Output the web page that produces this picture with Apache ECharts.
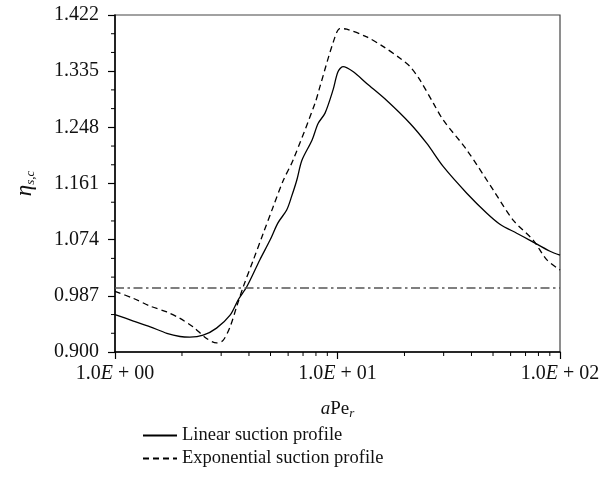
<!DOCTYPE html>
<html><head><meta charset="utf-8">
<script src="https://cdn.jsdelivr.net/npm/echarts@6/dist/echarts.min.js"></script>
<style>html,body{margin:0;padding:0;background:#fff}#c{width:615px;height:487px}</style>
</head><body><div id="c"></div>
<script>
const seriesNames = ['Linear suction profile', 'Exponential suction profile'];
const linearX = [1.00, 1.21, 1.44, 1.71, 1.96, 2.17, 2.49, 2.86, 3.29, 3.58, 3.91, 4.48, 4.97, 5.40, 5.91, 6.22, 6.56, 6.92, 7.68, 8.18, 8.79, 9.55, 10.05, 10.58, 11.78, 13.53, 16.6, 21.2, 25.2, 29.9, 38.1, 46.9, 53.7, 63.9, 73.3, 90.2, 100];
const linearY = [0.958, 0.948, 0.939, 0.929, 0.924, 0.923, 0.926, 0.937, 0.957, 0.981, 1.001, 1.043, 1.073, 1.100, 1.120, 1.141, 1.166, 1.197, 1.228, 1.254, 1.270, 1.306, 1.334, 1.342, 1.334, 1.316, 1.290, 1.254, 1.223, 1.187, 1.146, 1.115, 1.098, 1.084, 1.073, 1.056, 1.050];
const expX = [1.00, 1.21, 1.44, 1.71, 1.96, 2.24, 2.58, 2.86, 3.06, 3.29, 3.52, 3.77, 4.19, 4.64, 5.14, 5.71, 6.31, 7.92, 8.34, 9.55, 10.26, 11.0, 13.53, 16.07, 19.1, 21.2, 23.5, 27.0, 29.9, 38.1, 50.1, 61.7, 75.9, 87.1, 100];
const expY = [0.994, 0.983, 0.971, 0.962, 0.952, 0.939, 0.921, 0.914, 0.918, 0.939, 0.970, 1.001, 1.043, 1.084, 1.125, 1.166, 1.197, 1.285, 1.311, 1.379, 1.401, 1.400, 1.388, 1.373, 1.355, 1.342, 1.321, 1.285, 1.259, 1.213, 1.151, 1.104, 1.073, 1.043, 1.027];
const refLevel = 1.0;
const yTicks = [0.900, 0.987, 1.074, 1.161, 1.248, 1.335, 1.422];
const yMinorTicks = [0.929, 0.958, 1.016, 1.045, 1.103, 1.132, 1.190, 1.219, 1.277, 1.306, 1.364, 1.393];
const xMinorTicks = [2, 3, 4, 5, 6, 7, 8, 9, 20, 30, 40, 50, 60, 70, 80, 90];
const X_MIN = 1, X_MAX = 100, Y_MIN = 0.900, Y_MAX = 1.422;

const FONT = 'Liberation Serif';
const zip = (xs, ys) => xs.map((x, i) => [x, ys[i]]);

const chart = echarts.init(document.getElementById('c'), null, {renderer: 'canvas'});
chart.setOption({
  animation: false,
  backgroundColor: '#fff',
  grid: {left: 115, top: 15, right: 55, bottom: 135, show: true, borderColor: '#444', borderWidth: 1.2, containLabel: false},
  legend: {
    data: seriesNames, orient: 'vertical', left: 137, top: 421, itemWidth: 34, itemHeight: 10, itemGap: 4,
    itemStyle: {opacity: 0},
    textStyle: {fontFamily: FONT, fontSize: 18.5, color: '#111'}
  },
  xAxis: {
    type: 'log', logBase: 10, min: X_MIN, max: X_MAX,
    axisLine: {show: true, lineStyle: {color: '#000', width: 1.5}},
    axisTick: {show: true, inside: false, length: 7, lineStyle: {color: '#000', width: 1.2}},
    minorTick: {show: false},
    splitLine: {show: false},
    axisLabel: {
      margin: 12, color: '#111', fontFamily: FONT, fontSize: 20,
      formatter: v => {
        const e = Math.round(Math.log10(v));
        return '{n|1.0}{e|E}{n| + ' + String(e).padStart(2, '0') + '}';
      },
      rich: {n: {fontFamily: FONT, fontSize: 20, color: '#111'}, e: {fontFamily: FONT, fontSize: 20, fontStyle: 'italic', color: '#111'}}
    },
    name: '{a|a}{p|Pe}{r|r}', nameLocation: 'middle', nameGap: 46,
    nameTextStyle: {
      rich: {
        a: {fontFamily: FONT, fontSize: 19, fontStyle: 'italic', color: '#111', lineHeight: 22},
        p: {fontFamily: FONT, fontSize: 19, color: '#111', lineHeight: 22},
        r: {fontFamily: FONT, fontSize: 13, fontStyle: 'italic', color: '#111', lineHeight: 13, verticalAlign: 'bottom'}
      }
    }
  },
  yAxis: {
    type: 'value', min: Y_MIN, max: Y_MAX,
    axisLine: {show: true, lineStyle: {color: '#000', width: 1.5}},
    axisTick: {show: true, inside: false, length: 7, customValues: yTicks, lineStyle: {color: '#000', width: 1.2}},
    splitLine: {show: false},
    axisLabel: {
      margin: 16, color: '#111', fontFamily: FONT, fontSize: 20, customValues: yTicks,
      formatter: v => v.toFixed(3)
    },
    name: '{i|η}{s|s,c}', nameLocation: 'middle', nameRotate: 90, nameGap: 78,
    nameTextStyle: {
      rich: {
        i: {fontFamily: FONT, fontSize: 23, fontStyle: 'italic', color: '#111', lineHeight: 24},
        s: {fontFamily: FONT, fontSize: 13, fontStyle: 'italic', color: '#111', lineHeight: 13, verticalAlign: 'bottom'}
      }
    }
  },
  series: [
    {
      name: seriesNames[0], type: 'line', data: zip(linearX, linearY), smooth: 0.3,
      showSymbol: false, symbol: 'none', lineStyle: {color: '#000', width: 1.3, type: 'solid'}, itemStyle: {color: '#000'},
      markLine: {
        silent: true, symbol: 'none', label: {show: false},
        lineStyle: {color: '#555', width: 1.6, type: [9, 3.5, 2.5, 3.5]},
        data: [{yAxis: refLevel}]
      }
    },
    {
      name: seriesNames[1], type: 'line', data: zip(expX, expY), smooth: 0.3,
      showSymbol: false, symbol: 'none', lineStyle: {color: '#000', width: 1.3, type: [6, 4]}, itemStyle: {color: '#000'}
    },
    {
      type: 'custom', silent: true, clip: false, data: xMinorTicks.map(v => [v, Y_MIN]),
      renderItem: (params, api) => {
        const p = api.coord([api.value(0), Y_MIN]);
        return {type: 'line', shape: {x1: p[0], y1: p[1], x2: p[0], y2: p[1] + 4}, style: {stroke: '#000', lineWidth: 1}};
      }
    },
    {
      type: 'custom', silent: true, clip: false, data: yMinorTicks.map(v => [X_MIN, v]),
      renderItem: (params, api) => {
        const p = api.coord([X_MIN, api.value(1)]);
        return {type: 'line', shape: {x1: p[0], y1: p[1], x2: p[0] - 4, y2: p[1]}, style: {stroke: '#000', lineWidth: 1}};
      }
    }
  ]
});
</script>
</body></html>
